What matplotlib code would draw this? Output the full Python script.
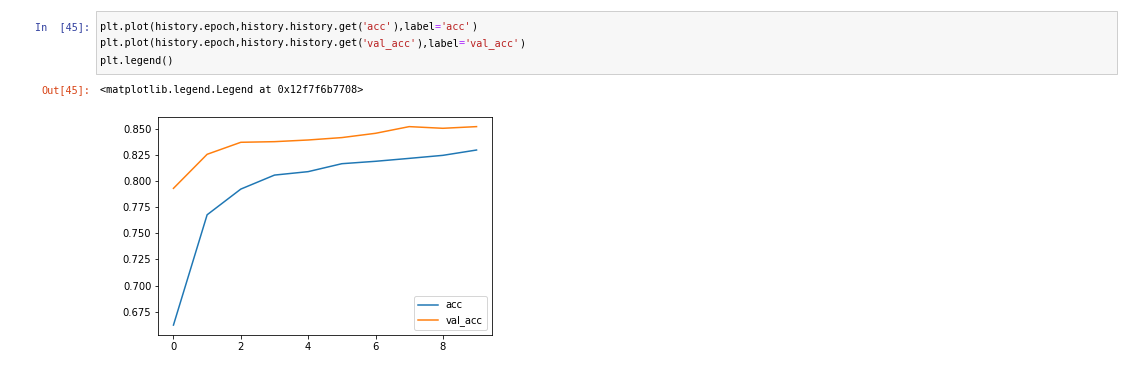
import matplotlib
matplotlib.use("Agg")
import matplotlib.pyplot as plt
from matplotlib.patches import Rectangle

# ---- data ----
epochs = list(range(10))
acc = [0.6622, 0.7678, 0.7924, 0.8058, 0.8091, 0.8167, 0.8190, 0.8218, 0.8247, 0.8298]
val_acc = [0.7931, 0.8257, 0.8372, 0.8378, 0.8394, 0.8417, 0.8458, 0.8522, 0.8506, 0.8522]
series_labels = ["acc", "val_acc"]

code_lines = [
    [("plt.plot(history.epoch,history.history.get(", "k"), ("'acc'", "s"), ("),label", "k"), ("=", "o"), ("'acc'", "s"), (")", "k")],
    [("plt.plot(history.epoch,history.history.get(", "k"), ("'val_acc'", "s"), ("),label", "k"), ("=", "o"), ("'val_acc'", "s"), (")", "k")],
    [("plt.legend()", "k")],
]
in_prompt = "In  [45]:"
out_prompt = "Out[45]:"
out_text = "<matplotlib.legend.Legend at 0x12f7f6b7708>"

W, H = 1138, 365
DPI = 72
fig = plt.figure(figsize=(W / DPI, H / DPI), dpi=DPI)
fig.patch.set_facecolor("white")

def fx(px):
    return px / W

def fy(py):
    return 1 - py / H

colors = {"k": "#000000", "s": "#BA2121", "o": "#AA22FF"}
mono = "DejaVu Sans Mono"
fs = 10.1
char_w = fs * 0.602  # pixels at 72 dpi

# code cell box
fig.patches.append(Rectangle((fx(96), fy(74)), fx(1117.3) - fx(96), fy(11.3) - fy(74),
                             transform=fig.transFigure, facecolor="#f7f7f7",
                             edgecolor="#cfcfcf", linewidth=1, zorder=0))

fig.text(fx(90), fy(26.7), in_prompt, ha="right", va="center", family=mono,
         fontsize=fs, color="#303F9F")
line_y = [26.7, 43.5, 60.5]
for ly, segs in zip(line_y, code_lines):
    n = 0
    for txt, c in segs:
        fig.text(fx(100 + n * char_w), fy(ly), txt, ha="left", va="center",
                 family=mono, fontsize=fs, color=colors[c])
        n += len(txt)

fig.text(fx(90), fy(90), out_prompt, ha="right", va="center", family=mono,
         fontsize=fs, color="#D84315")
fig.text(fx(100), fy(90), out_text, ha="left", va="center", family=mono,
         fontsize=fs, color="#000000")

# ---- plot ----
ax = fig.add_axes([fx(158.3), fy(335), fx(491.7) - fx(158.3), fy(116.7) - fy(335)])
ax.plot(epochs, acc, label=series_labels[0])
ax.plot(epochs, val_acc, label=series_labels[1])
ax.legend(loc="lower right")

fig.savefig("out.png", dpi=DPI)
